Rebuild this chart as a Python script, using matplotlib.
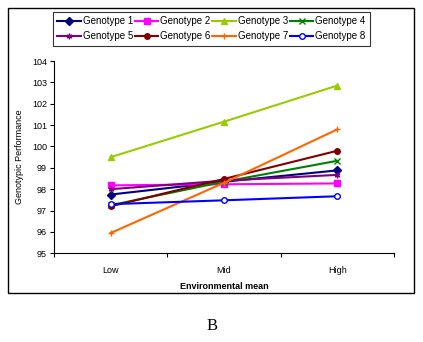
import matplotlib.pyplot as plt
from matplotlib.patches import Rectangle

plt.rcParams['font.family'] = ['Liberation Sans', 'DejaVu Sans']

environments = ['Low', 'Mid', 'High']
genotype_1 = [97.75, 98.35, 98.88]
genotype_2 = [98.18, 98.23, 98.27]
genotype_3 = [99.5, 101.16, 102.85]
genotype_4 = [97.25, 98.35, 99.33]
genotype_5 = [98.0, 98.4, 98.67]
genotype_6 = [97.2, 98.48, 99.8]
genotype_7 = [95.95, 98.3, 100.8]
genotype_8 = [97.3, 97.48, 97.67]

labels = ['Genotype 1', 'Genotype 2', 'Genotype 3', 'Genotype 4',
          'Genotype 5', 'Genotype 6', 'Genotype 7', 'Genotype 8']
series = [genotype_1, genotype_2, genotype_3, genotype_4,
          genotype_5, genotype_6, genotype_7, genotype_8]
colors = ['#000080', '#FF00FF', '#99CC00', '#008000',
          '#800080', '#800000', '#FF6600', '#0000FF']
markers = ['D', 's', '^', 'x', (6, 2, 0), 'o', '+', 'o']

W, H = 423, 342
fig = plt.figure(figsize=(W / 100, H / 100), dpi=100)
ax = fig.add_axes([54 / W, 1 - 253.3 / H, 340 / W, 192.3 / H])

x = list(range(len(environments)))
lines = []
for i, (vals, lab, c, m) in enumerate(zip(series, labels, colors, markers)):
    face = 'white' if i == 7 else c
    ln, = ax.plot(x, vals, color=c, lw=1.5, marker=m, markersize=4,
                  markerfacecolor=face, markeredgecolor=c, markeredgewidth=1.0,
                  label=lab)
    lines.append(ln)

ax.set_xlim(-0.5, 2.5)
ax.set_ylim(95, 104)
ax.set_yticks(range(95, 105))
ax.set_xticks([-0.5, 0.5, 1.5, 2.5])
ax.set_xticklabels([])
ax.set_xticks(x, minor=True)
ax.set_xticklabels(environments, minor=True)
ax.tick_params(axis='x', which='minor', length=0, pad=9, labelsize=6.5)
ax.tick_params(axis='x', which='major', length=3, direction='out')
ax.tick_params(axis='y', length=3, direction='out', labelsize=6.5, pad=2)
for s in ['top', 'right']:
    ax.spines[s].set_visible(False)
ax.spines['left'].set_linewidth(0.8)
ax.spines['bottom'].set_linewidth(0.8)

ax.set_xlabel('Environmental mean', fontsize=6.5, fontweight='bold', labelpad=5)
ax.set_ylabel('Genotypic Performance', fontsize=6.5, labelpad=6)

# legend filled row by row, like the original
order = [0, 4, 1, 5, 2, 6, 3, 7]
leg = fig.legend([lines[k] for k in order], [labels[k] for k in order],
                 loc='upper left', bbox_to_anchor=(53 / W, 1 - 12 / H),
                 ncol=4, fontsize=7, frameon=True, fancybox=False,
                 edgecolor='black', handlelength=2.4, handletextpad=0.2,
                 columnspacing=0.2, borderpad=0.45, labelspacing=0.5,
                 borderaxespad=0)
leg.get_frame().set_linewidth(0.8)

# outer chart border
fig.patches.append(Rectangle((8 / W, 1 - 293 / H), 406 / W, 285 / H,
                             transform=fig.transFigure, fill=False,
                             edgecolor='black', lw=1.0))

fig.text(212 / W, 1 - 326 / H, 'B', ha='center', va='center', fontsize=12,
         family=['Liberation Serif', 'DejaVu Serif'])

fig.savefig('out.png', dpi=100)
